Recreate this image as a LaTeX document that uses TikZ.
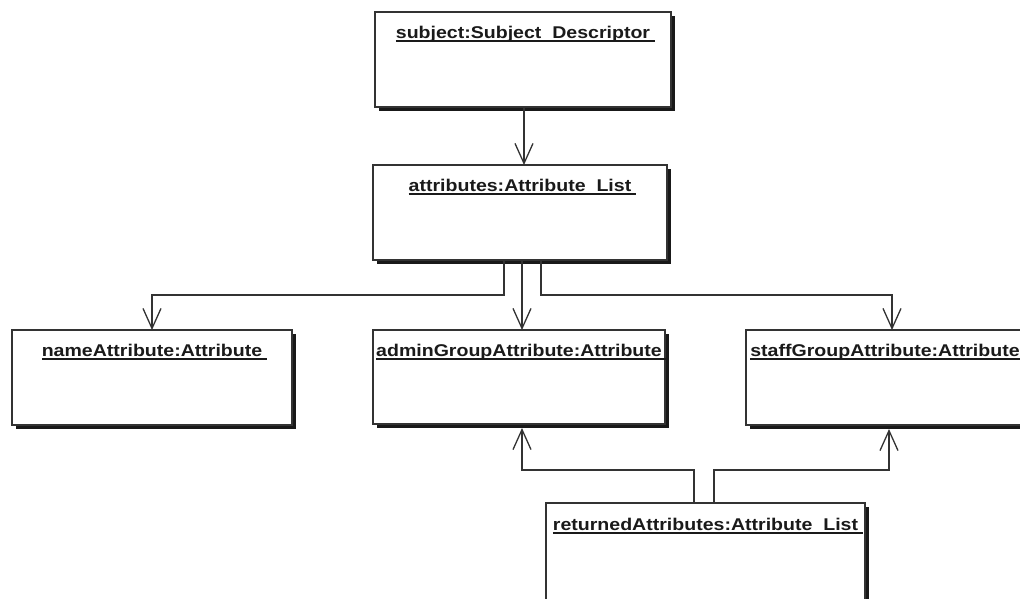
\documentclass[tikz,border=0pt]{standalone}
\usepackage{fontspec}
\usetikzlibrary{arrows.meta,shadows}
\newfontfamily\umlfont{Liberation Sans}[FakeStretch=1.15]
\definecolor{inkline}{HTML}{333333}
\definecolor{inktext}{HTML}{1A1A1A}
% underlined object name, the rule running a little past the text
\newcommand{\objname}[1]{\setbox0\hbox{#1}\rlap{\rule[-3.5pt]{\dimexpr\wd0+5pt\relax}{1.4pt}}\box0}
\tikzset{
  objbox/.style={draw=inkline, line width=1.3pt, fill=white, rectangle,
    anchor=north west, inner sep=0pt, outer sep=0pt,
    drop shadow={shadow xshift=4pt, shadow yshift=-4pt, opacity=1, fill=black!90}},
  objtitle/.style={anchor=base, inner sep=0pt, text=inktext,
    font=\umlfont\bfseries\fontsize{17}{20}\selectfont},
  conn/.style={draw=inkline, line width=1.3pt,
    -{Straight Barb[length=20pt,width=18pt,line width=1.3pt]}},
}
\begin{document}
\begin{tikzpicture}[x=1pt,y=-1pt]
\useasboundingbox[fill=white] (0,0) rectangle (1020,598);
\clip (0,0) rectangle (1020,598);

% object boxes
\node[objbox, minimum width=296pt, minimum height=95pt] (subject)    at (375,12)  {};
\node[objbox, minimum width=294pt, minimum height=95pt] (attributes) at (373,165) {};
\node[objbox, minimum width=280pt, minimum height=95pt] (name)       at (12,330)  {};
\node[objbox, minimum width=292pt, minimum height=94pt] (admin)      at (373,330) {};
\node[objbox, minimum width=292pt, minimum height=95pt] (staff)      at (746,330) {};
\node[objbox, minimum width=319pt, minimum height=140pt] (returned)  at (546,503) {};

% object names
\node[objtitle] (subject-t)    at (523,38)    {\objname{subject:Subject\ \ Descriptor}};
\node[objtitle] (attributes-t) at (520,191)   {\objname{attributes:Attribute\ \ List}};
\node[objtitle] (name-t)       at (152,356)   {\objname{nameAttribute:Attribute}};
\node[objtitle] (admin-t)      at (519,356)   {\objname{adminGroupAttribute:Attribute}};
\node[objtitle] (staff-t)      at (885,356)   {\objname{staffGroupAttribute:Attribute}};
\node[objtitle] (returned-t)   at (705.5,530) {\objname{returnedAttributes:Attribute\ \ List}};

% links
\draw[conn] ([xshift=1pt]subject.south) -- ([xshift=1pt]subject.south |- attributes.north);
\draw[conn] ([xshift=-16pt]attributes.south) -- ++(0,35) -| (name.north);
\draw[conn] ([xshift=2pt]attributes.south) -- ([xshift=2pt]attributes.south |- admin.north);
\draw[conn] ([xshift=21pt]attributes.south) -- ++(0,35) -| (staff.north);
\draw[conn] ([xshift=-11.5pt]returned.north) -- ++(0,-33) -| ([xshift=3pt,yshift=-4pt]admin.south);
\draw[conn] ([xshift=8.5pt]returned.north) -- ++(0,-33) -| ([xshift=-3pt,yshift=-4pt]staff.south);
\end{tikzpicture}
\end{document}
